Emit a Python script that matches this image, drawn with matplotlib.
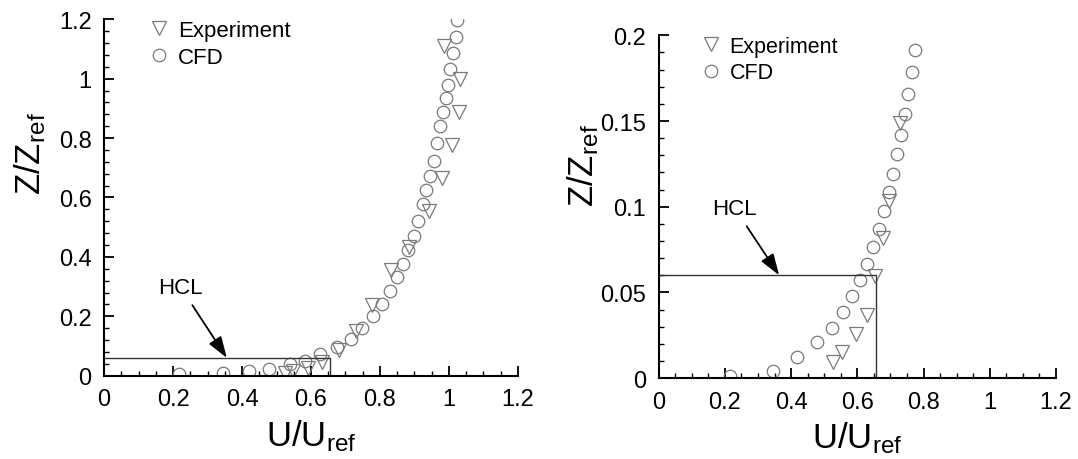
import matplotlib
matplotlib.use("Agg")
import matplotlib.pyplot as plt
from matplotlib.ticker import MultipleLocator, FormatStrFormatter

plt.rcParams['font.family'] = ['Liberation Sans', 'DejaVu Sans']
plt.rcParams['mathtext.fontset'] = 'custom'
plt.rcParams['mathtext.rm'] = 'Liberation Sans'
plt.rcParams['mathtext.it'] = 'Liberation Sans:italic'

# full height profile
cfd_u_full = [0.216, 0.344, 0.419, 0.477, 0.540, 0.583, 0.627, 0.675, 0.716, 0.748,
              0.779, 0.806, 0.828, 0.849, 0.867, 0.880, 0.898, 0.910, 0.925, 0.934,
              0.946, 0.956, 0.965, 0.975, 0.982, 0.990, 0.997, 1.004, 1.011, 1.019, 1.024]
cfd_z_full = [0.006, 0.008, 0.015, 0.023, 0.039, 0.051, 0.072, 0.096, 0.124, 0.161,
              0.200, 0.241, 0.284, 0.333, 0.376, 0.423, 0.471, 0.522, 0.578, 0.626,
              0.673, 0.724, 0.782, 0.841, 0.887, 0.934, 0.980, 1.032, 1.085, 1.139, 1.198]
exp_u_full = [0.525, 0.549, 0.590, 0.632, 0.680, 0.731, 0.777, 0.832, 0.883, 0.941,
              0.980, 1.009, 1.028, 1.033, 0.985]
exp_z_full = [0.009, 0.015, 0.026, 0.045, 0.088, 0.152, 0.238, 0.357, 0.432, 0.556,
              0.666, 0.778, 0.887, 0.999, 1.111]

# near-ground profile
cfd_u_low = [0.215, 0.344, 0.417, 0.479, 0.522, 0.556, 0.585, 0.608, 0.630, 0.648,
             0.665, 0.681, 0.696, 0.709, 0.721, 0.732, 0.744, 0.754, 0.764, 0.774]
cfd_z_low = [0.0013, 0.0041, 0.0121, 0.0208, 0.0292, 0.0383, 0.0477, 0.0572, 0.0665, 0.0766,
             0.0870, 0.0975, 0.1084, 0.1192, 0.1305, 0.1420, 0.1539, 0.1659, 0.1788, 0.1914]
exp_u_low = [0.527, 0.555, 0.596, 0.630, 0.654, 0.678, 0.695, 0.729]
exp_z_low = [0.0092, 0.0150, 0.0257, 0.0368, 0.0593, 0.0820, 0.1035, 0.1490]

hcl_z = 0.06
hcl_u = 0.655

GRAY = '#7a7a7a'

fig = plt.figure(figsize=(10.78, 4.6), dpi=100)
ax1 = fig.add_axes([0.0965, 0.181, 0.384, 0.775])
ax2 = fig.add_axes([0.6110, 0.176, 0.3686, 0.745])


def style_axes(ax, ymax, ymajor, yminor, legend_size):
    ax.set_xlim(0, 1.2)
    ax.set_ylim(0, ymax)
    for s in ['top', 'right']:
        ax.spines[s].set_visible(False)
    for s in ['left', 'bottom']:
        ax.spines[s].set_linewidth(1.5)
    ax.xaxis.set_major_locator(MultipleLocator(0.2))
    ax.xaxis.set_minor_locator(MultipleLocator(0.05))
    ax.yaxis.set_major_locator(MultipleLocator(ymajor))
    ax.yaxis.set_minor_locator(MultipleLocator(yminor))
    ax.xaxis.set_major_formatter(FormatStrFormatter('%g'))
    ax.yaxis.set_major_formatter(FormatStrFormatter('%g'))
    ax.tick_params(which='both', direction='in', top=False, right=False)
    ax.tick_params(which='major', length=7, width=1.3, labelsize=17, pad=9)
    ax.tick_params(which='minor', length=3.5, width=1.0)
    ax.set_xlabel(r'U/U$_{\rm ref}$', fontsize=25, labelpad=5)
    ax.set_ylabel(r'Z/Z$_{\rm ref}$', fontsize=25)
    ax.legend(loc='upper left', bbox_to_anchor=(0.111, 0.998), frameon=False,
              fontsize=legend_size, handlelength=0.8, handletextpad=0.45,
              labelspacing=0.25, borderpad=0, borderaxespad=0)


def draw_profile(ax, eu, ez, cu, cz, text_pos, tip_u):
    ax.plot(eu, ez, linestyle='none', marker='v', markersize=9.5, markerfacecolor='none',
            markeredgecolor=GRAY, markeredgewidth=0.9, label='Experiment')
    ax.plot(cu, cz, linestyle='none', marker='o', markersize=9, markerfacecolor='none',
            markeredgecolor=GRAY, markeredgewidth=0.9, label='CFD')
    ax.plot([0, hcl_u, hcl_u], [hcl_z, hcl_z, 0], color='#333333', lw=1.0)
    ax.annotate('HCL', xy=(tip_u, hcl_z), xytext=text_pos, fontsize=16,
                ha='center', va='center',
                arrowprops=dict(arrowstyle='-|>,head_length=0.65,head_width=0.22',
                                color='black', lw=1.3, mutation_scale=20,
                                shrinkA=4, shrinkB=0))


draw_profile(ax1, exp_u_full, exp_z_full, cfd_u_full, cfd_z_full, (0.222, 0.298), 0.356)
draw_profile(ax2, exp_u_low, exp_z_low, cfd_u_low, cfd_z_low, (0.230, 0.099), 0.364)

style_axes(ax1, 1.2, 0.2, 0.04, 16)
style_axes(ax2, 0.2, 0.05, 0.01, 15.5)

ax1.yaxis.set_label_coords(-0.135, 0.625)
ax2.yaxis.set_label_coords(-0.145, 0.624)

fig.savefig('out.png', dpi=100)
